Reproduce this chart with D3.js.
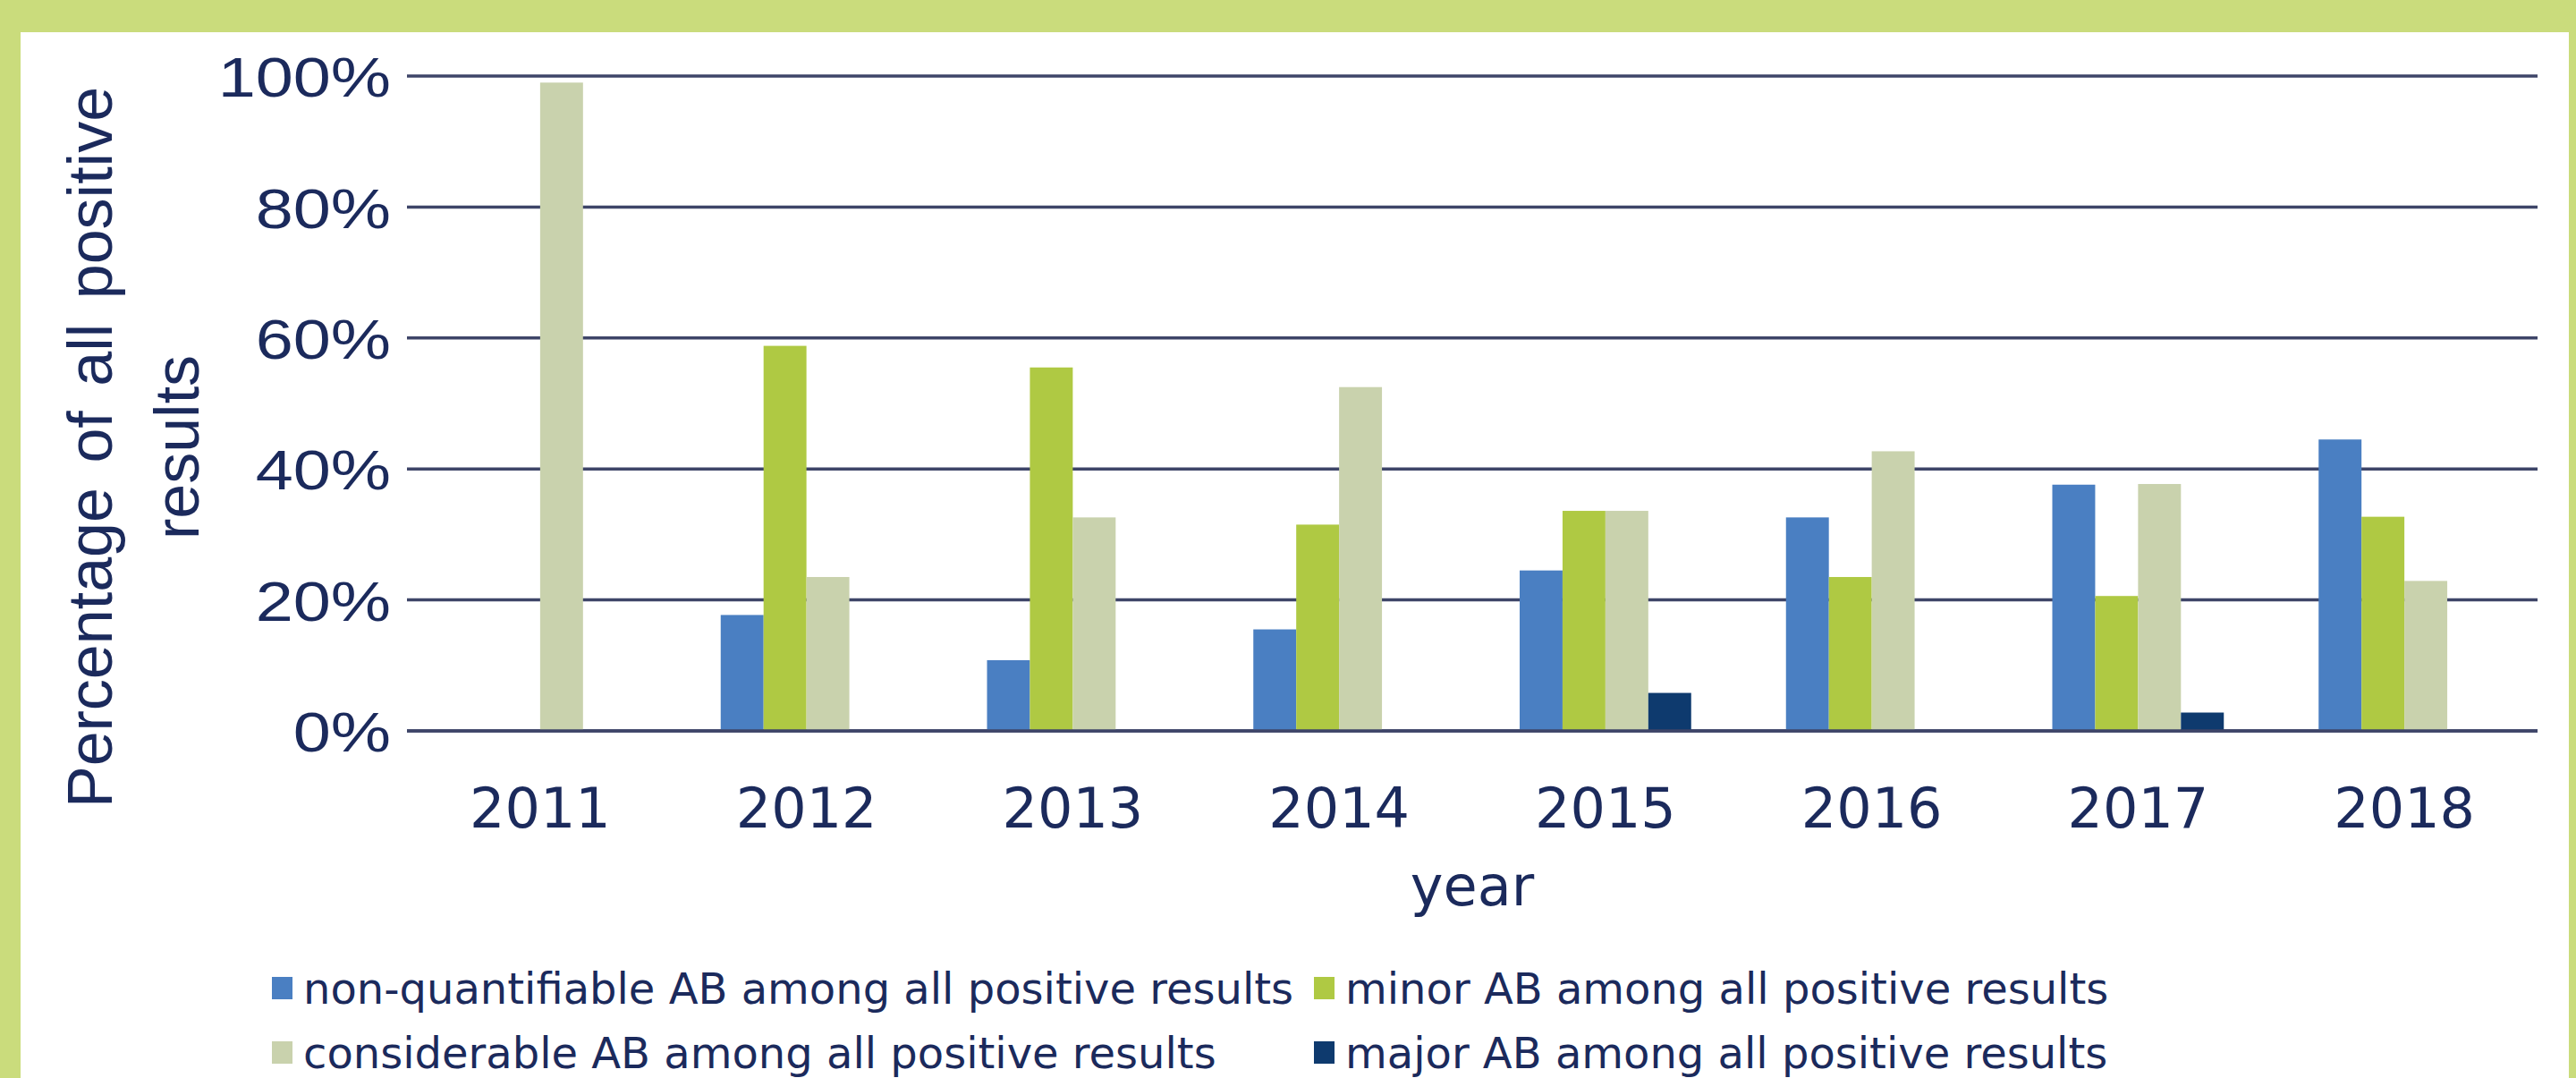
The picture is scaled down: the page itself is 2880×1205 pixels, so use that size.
<!DOCTYPE html>
<html>
<head>
<meta charset="utf-8">
<script src="https://cdn.jsdelivr.net/npm/d3@7"></script>
<style>
html,body{margin:0;padding:0;background:#cadc7c;}
svg{display:block;}
</style>
</head>
<body>
<svg id="chart" width="2880" height="1205"></svg>
<script>
const years = ["2011","2012","2013","2014","2015","2016","2017","2018"];
const seriesNames = [
  "non-quantifiable AB among all positive results",
  "minor AB among all positive results",
  "considerable AB among all positive results",
  "major AB among all positive results"
];
const nonQuantifiable = [0, 17.7, 10.8, 15.5, 24.5, 32.6, 37.6, 44.5];
const minorAB        = [0, 58.8, 55.5, 31.5, 33.6, 23.5, 20.6, 32.7];
const considerableAB = [99, 23.5, 32.6, 52.5, 33.6, 42.7, 37.7, 22.9];
const majorAB        = [0, 0, 0, 0, 5.8, 0, 2.8, 0];
const yTicks = [0, 20, 40, 60, 80, 100];
const seriesColors = ["#4a7fc2", "#afc943", "#c9d2ad", "#0e3a6e"];

const seriesValues = [nonQuantifiable, minorAB, considerableAB, majorAB];
const data = years.map((y, i) => ({year: y, values: seriesValues.map(s => s[i])}));

const svg = d3.select("#chart");
const textColor = "#1b2a5c";
const gridColor = "#3e4568";

// panel
svg.append("rect").attr("x", 0).attr("y", 0).attr("width", 2880).attr("height", 1205).attr("fill", "#cadc7c");
svg.append("rect").attr("x", 23).attr("y", 36).attr("width", 2849).attr("height", 1169).attr("fill", "#ffffff");

const plot = {left: 455, right: 2837, top: 85, bottom: 817};

const x0 = d3.scaleBand().domain(years).range([plot.left, plot.right]).paddingInner(0.356).paddingOuter(0.178);
const x1 = d3.scaleBand().domain(d3.range(4)).range([0, x0.bandwidth()]).padding(0);
const y = d3.scaleLinear().domain([0, 100]).range([plot.bottom, plot.top]);

// gridlines
svg.append("g").selectAll("line").data(yTicks).join("line")
  .attr("x1", plot.left).attr("x2", plot.right)
  .attr("y1", d => y(d)).attr("y2", d => y(d))
  .attr("stroke", gridColor).attr("stroke-width", 3.5);

// y axis labels
const yAxis = d3.axisLeft(y).tickValues(yTicks).tickFormat(d => d + "%").tickSize(0).tickPadding(0);
const gy = svg.append("g").attr("transform", `translate(437,0)`).call(yAxis);
gy.select(".domain").remove();
gy.selectAll("text").attr("font-family", "'Liberation Sans', Arial, sans-serif").attr("font-size", 63).attr("fill", textColor).attr("dy", "0.36em")
  .each(function() {
    const len = this.getComputedTextLength();
    d3.select(this).attr("textLength", len * 1.2).attr("lengthAdjust", "spacingAndGlyphs");
  });

// bars
const groups = svg.append("g").selectAll("g").data(data).join("g")
  .attr("transform", d => `translate(${x0(d.year)},0)`);
groups.selectAll("rect").data(d => d.values.map((v, i) => ({v, i}))).join("rect")
  .attr("x", d => x1(d.i))
  .attr("width", x1.bandwidth())
  .attr("y", d => y(d.v))
  .attr("height", d => y(0) - y(d.v))
  .attr("fill", d => seriesColors[d.i]);

// baseline on top
svg.append("line").attr("x1", plot.left).attr("x2", plot.right).attr("y1", y(0)).attr("y2", y(0))
  .attr("stroke", gridColor).attr("stroke-width", 3.5);

// x axis labels
const xAxis = d3.axisBottom(x0).tickSize(0).tickPadding(0);
const gx = svg.append("g").attr("transform", `translate(0,925)`).call(xAxis);
gx.select(".domain").remove();
gx.selectAll("text").attr("font-family", "'DejaVu Sans', Verdana, sans-serif").attr("font-size", 62).attr("fill", textColor).attr("dy", 0);

// x title
svg.append("text").attr("x", (plot.left + plot.right) / 2).attr("y", 1012)
  .attr("text-anchor", "middle").attr("font-family", "'DejaVu Sans', Verdana, sans-serif").attr("font-size", 62)
  .attr("fill", textColor).text("year");

// y title
const yt = svg.append("text").attr("transform", "translate(0,500) rotate(-90)")
  .attr("text-anchor", "middle").attr("font-family", "'Liberation Sans', Arial, sans-serif").attr("font-size", 70)
  .attr("fill", textColor);
yt.append("tspan").attr("x", 0).attr("y", 125).attr("word-spacing", 8).text("Percentage of all positive");
yt.append("tspan").attr("x", 0).attr("y", 222).text("results");

// legend
const legendPos = [
  {x: 304, y: 1122}, {x: 1469, y: 1122},
  {x: 304, y: 1194}, {x: 1469, y: 1194}
];
const lg = svg.append("g").selectAll("g").data(seriesNames).join("g")
  .attr("transform", (d, i) => `translate(${legendPos[i].x},${legendPos[i].y})`);
lg.append("rect").attr("x", 0).attr("y", -30).attr("width", 23).attr("height", 25)
  .attr("fill", (d, i) => seriesColors[i]);
lg.append("text").attr("x", 35).attr("y", 0)
  .attr("font-family", "'DejaVu Sans', Verdana, sans-serif").attr("font-size", 48)
  .attr("fill", textColor).text(d => d);
</script>
</body>
</html>
